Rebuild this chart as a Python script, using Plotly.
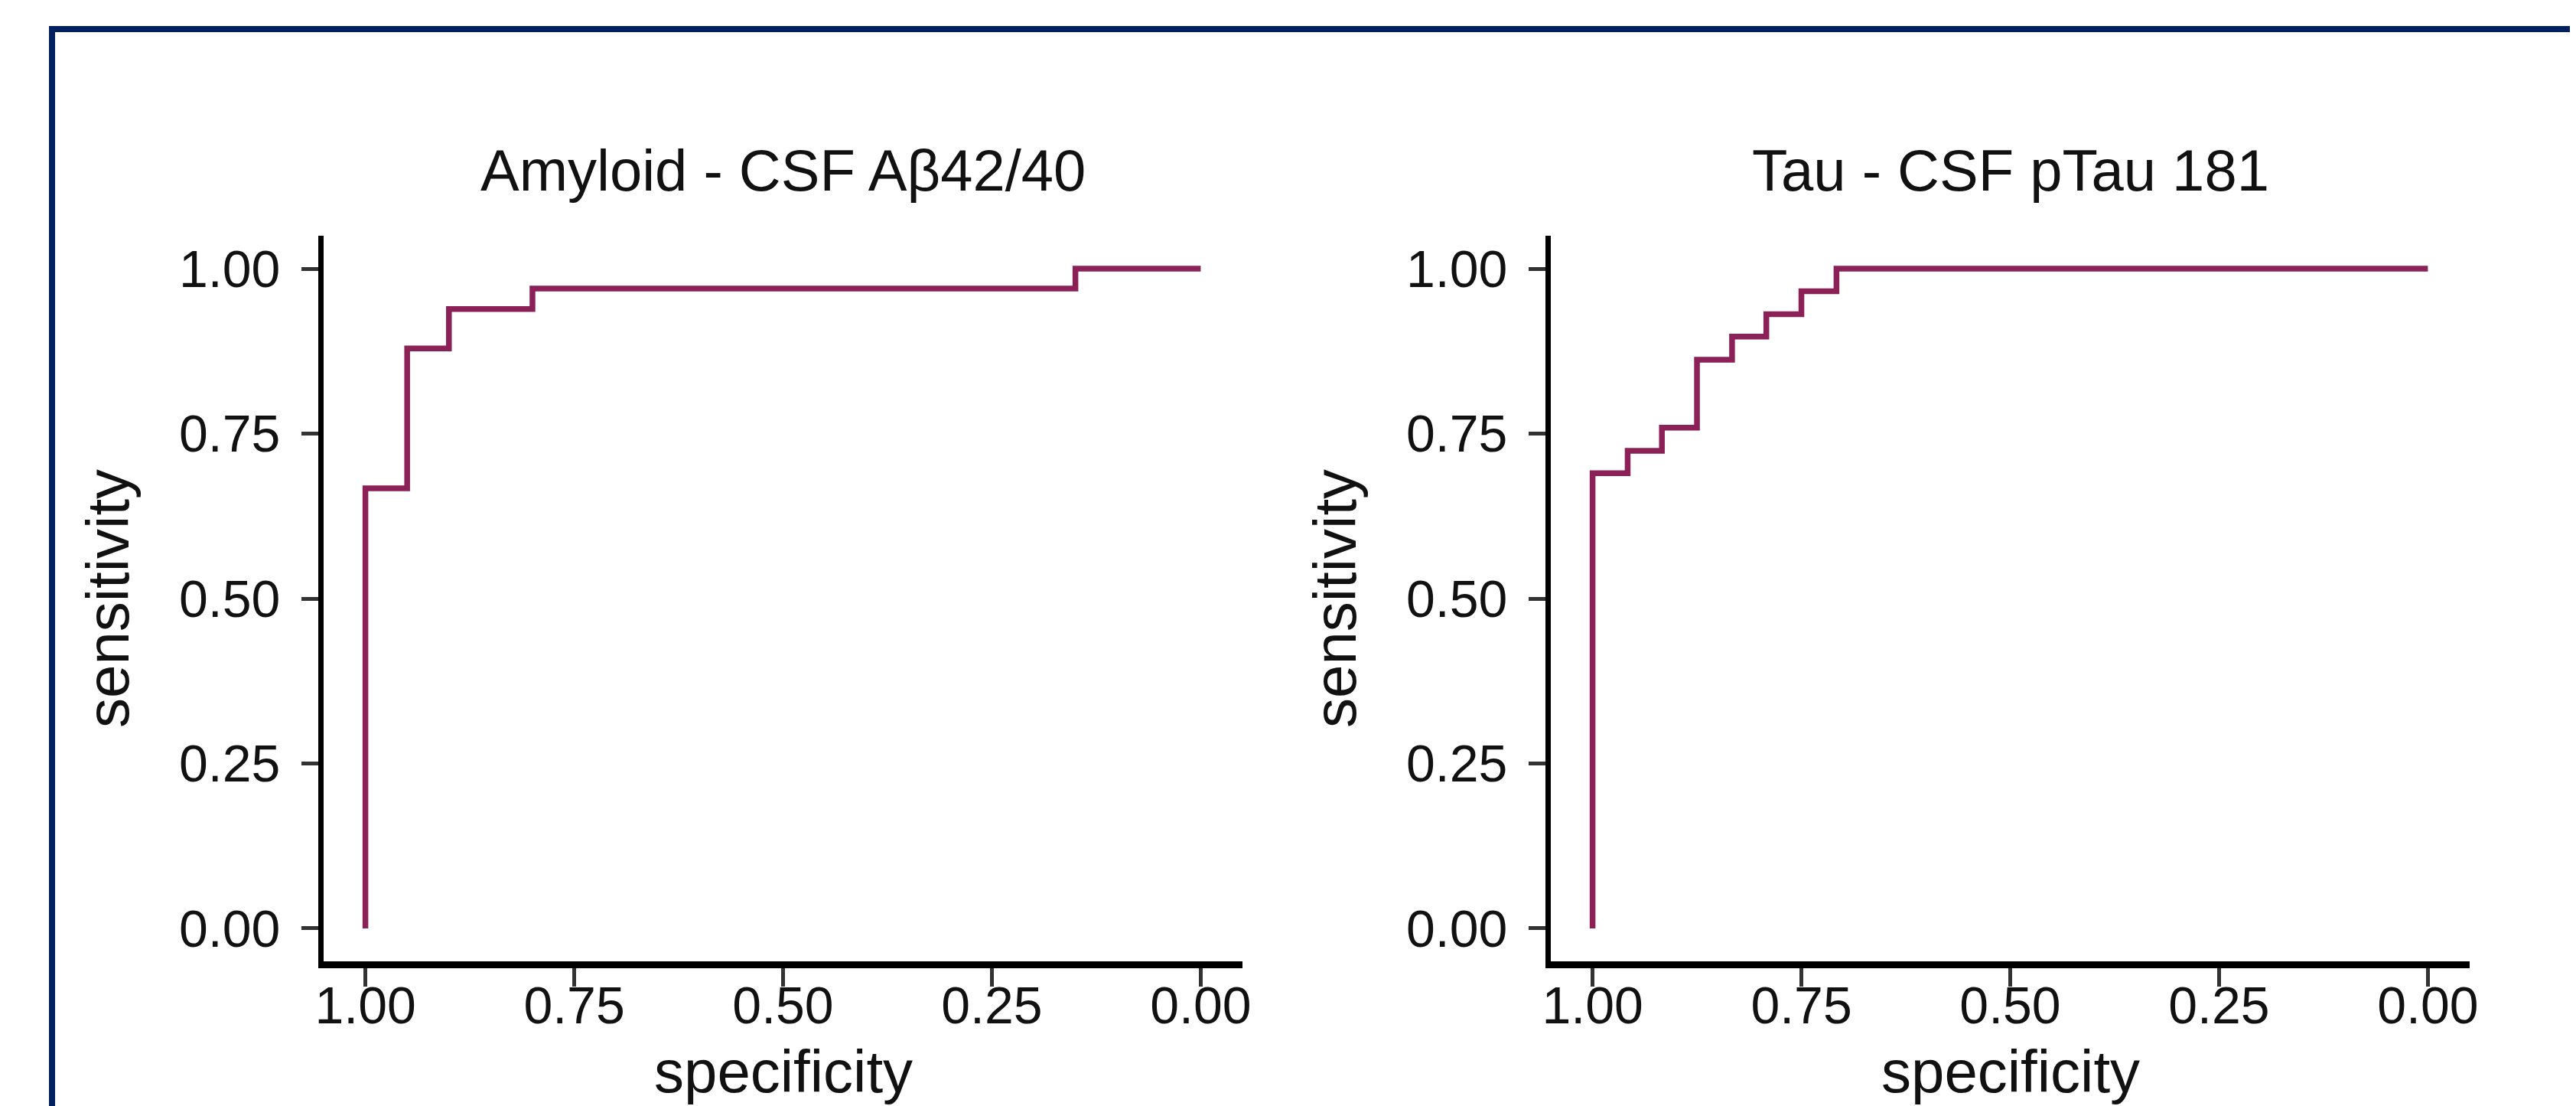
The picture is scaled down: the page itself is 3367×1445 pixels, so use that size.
import plotly.graph_objects as go

# ---- data ----
amyloid_specificity = [1.00, 0.95, 0.90, 0.80, 0.15, 0.00]
amyloid_sensitivity = [0.00, 0.667, 0.879, 0.939, 0.970, 1.00]

tau_specificity = [1.00, 0.958, 0.917, 0.875, 0.833, 0.792, 0.750, 0.708, 0.00]
tau_sensitivity = [0.00, 0.690, 0.724, 0.759, 0.862, 0.897, 0.931, 0.966, 1.00]

panel_titles = ["Amyloid - CSF Aβ42/40", "Tau - CSF pTau 181"]
tick_values = [0.00, 0.25, 0.50, 0.75, 1.00]
tick_labels = ["0.00", "0.25", "0.50", "0.75", "1.00"]
x_title = "specificity"
y_title = "sensitivity"

# ---- layout geometry (pixels of a 3367x1445 canvas) ----
W, H = 3367, 1445
FONT = "Liberation Sans, Arial, Helvetica, sans-serif"
LINE_COLOR = "#8C2157"
TEXT_COLOR = "#111111"

x_domains = [[415 / W, 1616 / W], [2019 / W, 3220 / W]]
y_domain = [1 - 1248 / H, 1 - 300 / H]

fig = go.Figure()

series = [(amyloid_specificity, amyloid_sensitivity), (tau_specificity, tau_sensitivity)]
for i, (xs, ys) in enumerate(series):
    fig.add_trace(go.Scatter(
        x=xs, y=ys, mode="lines", line=dict(color=LINE_COLOR, width=7.5, shape="vh"),
        xaxis="x" if i == 0 else "x2", yaxis="y" if i == 0 else "y2",
        showlegend=False, hoverinfo="skip"))

axis_common = dict(
    showgrid=False, zeroline=False, showline=True, linecolor="#000000",
    ticks="outside", tickwidth=5, tickcolor="#333333",
    tickvals=tick_values, ticktext=tick_labels,
    tickfont=dict(family=FONT, size=68, color=TEXT_COLOR),
    automargin=False, fixedrange=True,
)

layout = dict(
    width=W, height=H,
    margin=dict(l=0, r=0, t=0, b=0, autoexpand=False),
    paper_bgcolor="white", plot_bgcolor="white",
    showlegend=False,
)
for i in range(2):
    xa = "xaxis" if i == 0 else "xaxis2"
    ya = "yaxis" if i == 0 else "yaxis2"
    layout[xa] = dict(axis_common, domain=x_domains[i], range=[1.05, -0.05], ticklen=24,
                      linewidth=9, anchor="y" if i == 0 else "y2", ticklabelstandoff=-34)
    layout[ya] = dict(axis_common, domain=y_domain, range=[-0.05, 1.05], ticklen=22,
                      linewidth=7, anchor="x" if i == 0 else "x2", ticklabelstandoff=14)
fig.update_layout(**layout)

annotations = []
for i in range(2):
    cx = (x_domains[i][0] + x_domains[i][1]) / 2
    annotations.append(dict(text=panel_titles[i], x=cx, y=1 - 214 / H, xref="paper", yref="paper",
                            xanchor="center", yanchor="middle", showarrow=False,
                            font=dict(family=FONT, size=76, color=TEXT_COLOR)))
    annotations.append(dict(text=x_title, x=cx, y=1 - 1392 / H, xref="paper", yref="paper",
                            xanchor="center", yanchor="middle", showarrow=False,
                            font=dict(family=FONT, size=78, color=TEXT_COLOR)))
    annotations.append(dict(text=y_title, x=(133 + i * 1604) / W, y=(y_domain[0] + y_domain[1]) / 2,
                            xref="paper", yref="paper", textangle=-90,
                            xanchor="center", yanchor="middle", showarrow=False,
                            font=dict(family=FONT, size=78, color=TEXT_COLOR)))
fig.update_layout(annotations=annotations)

# navy frame around the figure (extends beyond the right and bottom edges)
fig.add_shape(type="rect", xref="paper", yref="paper",
              x0=60 / W, x1=1.02, y0=-0.02, y1=1 - 30 / H,
              line=dict(color="#00205F", width=8), fillcolor="rgba(0,0,0,0)", layer="above")

fig.write_html("out.html")
